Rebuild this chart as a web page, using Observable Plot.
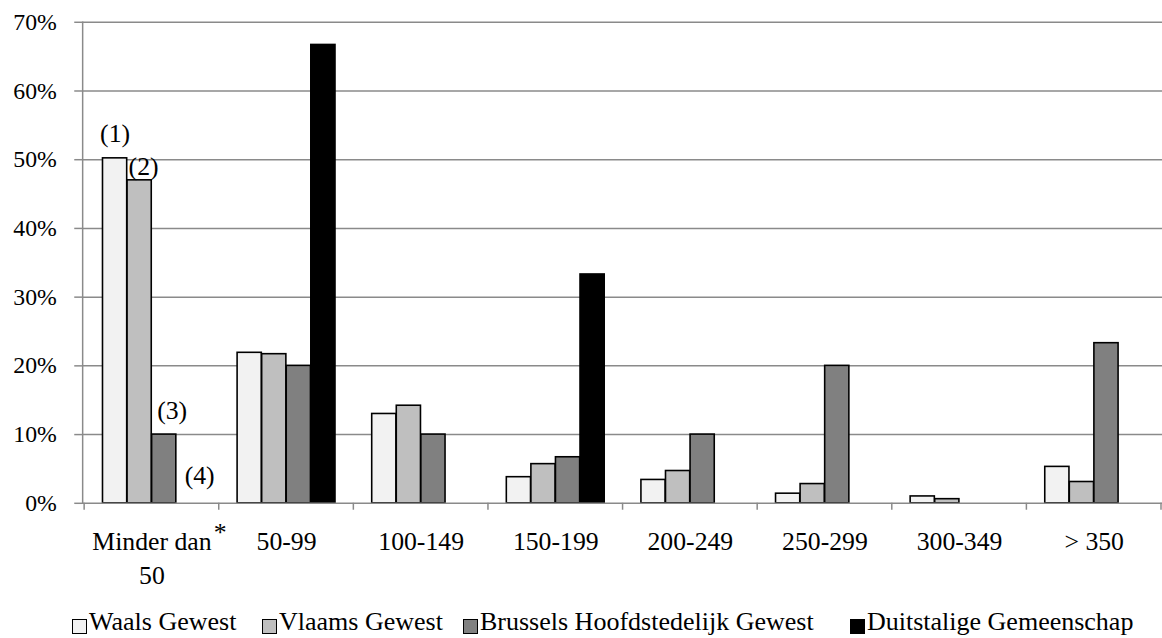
<!DOCTYPE html>
<html>
<head>
<meta charset="utf-8">
<script src="https://cdn.jsdelivr.net/npm/d3@7"></script>
<script src="https://cdn.jsdelivr.net/npm/@observablehq/plot@0.6"></script>
<style>
  html, body { margin: 0; padding: 0; background: #fff; overflow: hidden; font-family: 'Liberation Serif'; }
  #wrap { position: relative; width: 1162px; height: 638px; overflow: hidden; font-family: 'Liberation Serif'; }
  #chart { position: absolute; left: 0; top: 0; }
  .leg { position: absolute; top: 609px; height: 26px; line-height: 26px; font-size: 26px; white-space: nowrap; color: #000; display: flex; align-items: center; font-family: 'Liberation Serif'; }
  .sw { display: inline-block; width: 13px; height: 13px; border: 1.6px solid #000; margin-right: 2px; position: relative; top: 4px; }
</style>
</head>
<body>
<div id="wrap">
  <div id="chart"></div>
  <div id="legend"></div>
</div>
<script>
// ---- data ----
const categories = ["Minder dan 50", "50-99", "100-149", "150-199", "200-249", "250-299", "300-349", "> 350"];
const series = ["Waals Gewest", "Vlaams Gewest", "Brussels Hoofdstedelijk Gewest", "Duitstalige Gemeenschap"];
const colors = ["#f2f2f2", "#bfbfbf", "#808080", "#000000"];
const waals    = [50.2, 21.9, 13.0, 3.8, 3.4, 1.4, 1.0, 5.3];
const vlaams   = [47.0, 21.7, 14.2, 5.7, 4.7, 2.8, 0.6, 3.1];
const brussels = [10.0, 20.0, 10.0, 6.7, 10.0, 20.0, 0.0, 23.3];
const duits    = [0.0, 66.7, 0.0, 33.3, 0.0, 0.0, 0.0, 0.0];
const yTicks = [0, 10, 20, 30, 40, 50, 60, 70];
const notes = ["(1)", "(2)", "(3)", "(4)"];   // notes over the bars of the first category, one per series
const footnoteMark = "*";

// ---- build table ----
const valuesBySeries = [waals, vlaams, brussels, duits];
const rows = [];
series.forEach((s, i) => categories.forEach((c, j) => rows.push({c, s, i, v: valuesBySeries[i][j]})));
const noteRows = notes.map((t, i) => ({c: categories[0], i, v: valuesBySeries[i][0], t}));

// ---- layout ----
const W = 1174, H = 600, ML = 83, MR = 0, MT = 22, MB = 92;
const step = (W - ML - MR) / categories.length;
const outer = 0.136 * step;
const bw = (step - 2 * outer) / series.length;
const grid = "#8a8a8a";
const FONT = "Liberation Serif";
const noteOffsets = [{dx: 0, dy: -25}, {dx: 4, dy: -14}, {dx: 8, dy: -24}, {dx: 11, dy: -28}];

const boundaryTicks = (index, scales, values, dims) => {
  const g = d3.create("svg:g").attr("stroke", grid).attr("stroke-width", 1.5);
  const y0 = scales.y(0);
  const xs = categories.map(c => scales.x(c));
  xs.push(scales.x(categories[categories.length - 1]) + scales.x.bandwidth());
  xs.forEach(x => g.append("line").attr("x1", x).attr("x2", x).attr("y1", y0).attr("y2", y0 + 7));
  return g.node();
};

const chart = Plot.plot({
  width: W, height: H,
  marginLeft: ML, marginRight: MR, marginTop: MT, marginBottom: MB,
  style: {fontFamily: FONT, background: "#fff", color: "#000", overflow: "visible"},
  x: {domain: categories, padding: 0, label: null},
  y: {domain: [0, 70], label: null},
  marks: [
    Plot.gridY(yTicks.filter(d => d > 0), {stroke: grid, strokeOpacity: 1, strokeWidth: 1.5}),
    ...series.map((s, i) => Plot.barY(rows.filter(r => r.i === i && r.v > 0), {
      x: "c", y: "v", fill: colors[i], stroke: "#000", strokeWidth: 1.6,
      insetLeft: outer + i * bw, insetRight: step - outer - (i + 1) * bw
    })),
    Plot.ruleY([0], {stroke: grid, strokeWidth: 1.5}),
    Plot.frame({anchor: "left", stroke: grid, strokeWidth: 1.5}),
    boundaryTicks,
    Plot.axisY({ticks: yTicks, tickSize: 8, tickPadding: 18, tickFormat: d => d + "%", fontSize: 24, fontFamily: FONT, stroke: grid, strokeWidth: 1.5, fill: "#000"}),
    Plot.axisX({tickSize: 0, tickPadding: 22, fontSize: 26, fontFamily: FONT, lineHeight: 1.35, fill: "#000",
      tickFormat: d => d === categories[0] ? "Minder dan\n50" : d}),
    ...noteRows.map(n => Plot.text([n], {
      x: "c", y: "v", text: "t", fontSize: 26, fontFamily: FONT, fill: "#000",
      dx: outer + (n.i + 0.5) * bw - step / 2 + noteOffsets[n.i].dx, dy: noteOffsets[n.i].dy
    })),
    Plot.text([footnoteMark], {x: () => categories[0], y: () => 0, text: d => d, fontSize: 26, fontFamily: FONT, fill: "#000", dx: 69, dy: 30})
  ]
});
document.getElementById("chart").appendChild(chart);

// ---- legend ----
const legX = [72, 262, 463, 850];
const legend = document.getElementById("legend");
series.forEach((s, i) => {
  const item = document.createElement("div");
  item.className = "leg";
  item.style.left = legX[i] + "px";
  const sw = document.createElement("span");
  sw.className = "sw";
  sw.style.background = colors[i];
  const tx = document.createElement("span");
  tx.textContent = s;
  item.appendChild(sw); item.appendChild(tx);
  legend.appendChild(item);
});
</script>
</body>
</html>
